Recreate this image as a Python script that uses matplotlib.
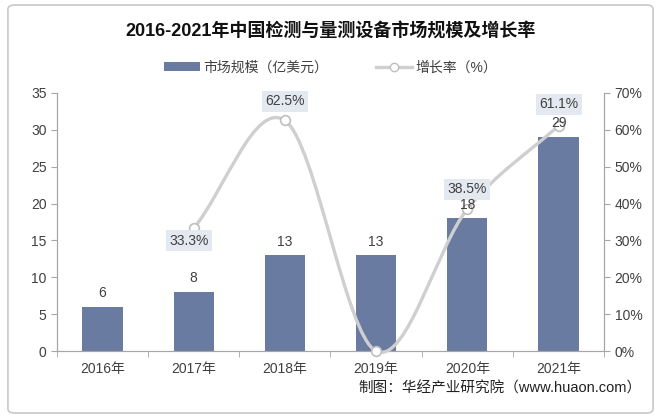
import matplotlib.pyplot as plt
import numpy as np
from matplotlib.path import Path
from matplotlib.patches import PathPatch, FancyBboxPatch
from matplotlib.lines import Line2D
from matplotlib.patches import Patch

plt.rcParams['font.family'] = ['Liberation Sans', 'Noto Sans CJK SC', 'DejaVu Sans']

years = ["2016年", "2017年", "2018年", "2019年", "2020年", "2021年"]
market = [6, 8, 13, 13, 18, 29]
growth_years = [1, 2, 3, 4, 5]
growth = [33.3, 62.5, 0.0, 38.5, 61.1]

bar_color = "#6a7ba2"
line_color = "#cfcfcf"
axis_color = "#a6a6a6"
text_color = "#404040"

fig = plt.figure(figsize=(6.61, 4.18), dpi=100)
ax = fig.add_axes([0.086, 0.160, 0.828, 0.618])
ax2 = ax.twinx()

x = np.arange(len(years))
ax.bar(x, market, width=0.44, color=bar_color, zorder=2)

ax.set_ylim(0, 35)
ax.set_yticks(range(0, 36, 5))
ax.set_xlim(-0.5, len(years) - 0.5)
ax.set_xticks(x)
ax.set_xticklabels(years)
ax.set_xticks(np.arange(-0.5, len(years), 1), minor=True)
ax.tick_params(axis="x", which="major", length=0, pad=8, labelsize=10, labelcolor=text_color)
ax.tick_params(axis="x", which="minor", length=4, color=axis_color, direction="out")
ax.tick_params(axis="y", length=4, color=axis_color, labelsize=10, labelcolor=text_color)
for s in ["top"]:
    ax.spines[s].set_visible(False)
    ax2.spines[s].set_visible(False)
for s in ["left", "bottom", "right"]:
    ax.spines[s].set_color(axis_color)
    ax2.spines[s].set_color(axis_color)

ax2.set_ylim(0, 70)
ax2.set_yticks(range(0, 71, 10))
ax2.set_yticklabels([f"{t}%" for t in range(0, 71, 10)])
ax2.tick_params(axis="y", length=4, color=axis_color, labelsize=10, labelcolor=text_color)

# smoothed growth line (Catmull-Rom -> cubic Bezier)
gx = np.array(growth_years, dtype=float)
gy = np.array(growth, dtype=float)
px = np.concatenate([[2 * gx[0] - gx[1]], gx, [2 * gx[-1] - gx[-2]]])
py = np.concatenate([[2 * gy[0] - gy[1]], gy, [2 * gy[-1] - gy[-2]]])
verts = [(gx[0], gy[0])]
codes = [Path.MOVETO]
t = 1 / 6
for i in range(1, len(px) - 2):
    c1 = (px[i] + (px[i + 1] - px[i - 1]) * t, py[i] + (py[i + 1] - py[i - 1]) * t)
    c2 = (px[i + 1] - (px[i + 2] - px[i]) * t, py[i + 1] - (py[i + 2] - py[i]) * t)
    verts += [c1, c2, (px[i + 1], py[i + 1])]
    codes += [Path.CURVE4] * 3
ax2.add_patch(PathPatch(Path(verts, codes), facecolor="none", edgecolor=line_color,
                        lw=2.4, zorder=3, clip_on=False))
ax2.plot(gx, gy, ls="none", marker="o", ms=7, mfc="white", mec="#bfbfbf", mew=1.2,
         zorder=4, clip_on=False)

# bar value labels drawn on top of the line
for xi, v in zip(x, market):
    ax2.text(xi, v + 0.9, f"{v}", ha="center", va="bottom", fontsize=10, color=text_color,
             transform=ax.transData, zorder=6)

offsets = [-3.4, 5.2, None, 5.4, 5.8]
dx = [-0.05, 0, 0, 0, 0]
box = dict(boxstyle="square,pad=0.25", fc="#e4e8f0", ec="none")
for xi, v, off, d in zip(gx, gy, offsets, dx):
    if off is None:
        continue
    ax2.text(xi + d, v + off, f"{v:.1f}%", ha="center", va="center", fontsize=10,
             color=text_color, bbox=box, zorder=5)

fig.text(0.5, 0.925, "2016-2021年中国检测与量测设备市场规模及增长率", ha="center", va="center",
         fontsize=13, fontweight="bold", color="#111111")

handles = [Patch(facecolor=bar_color, edgecolor="none"),
           Line2D([0], [0], color=line_color, lw=2.4, marker="o", ms=6, mfc="white", mec="#bfbfbf")]
fig.legend(handles, ["市场规模（亿美元）", "增长率（%）"], loc="center", bbox_to_anchor=(0.5, 0.838),
           ncol=2, frameon=False, fontsize=10, handlelength=2.6, handleheight=0.6,
           handletextpad=0.2, columnspacing=3.5, labelcolor=text_color)

fig.text(0.97, 0.07, "制图：华经产业研究院（www.huaon.com）", ha="right", va="center",
         fontsize=10.5, color="#222222")

fig.patches.append(FancyBboxPatch((0.012, 0.012), 0.976, 0.976, boxstyle="round,pad=0,rounding_size=0.01",
                                  transform=fig.transFigure, fc="none", ec="#c8c8c8", lw=1.2))

fig.savefig("out.png", dpi=100)
